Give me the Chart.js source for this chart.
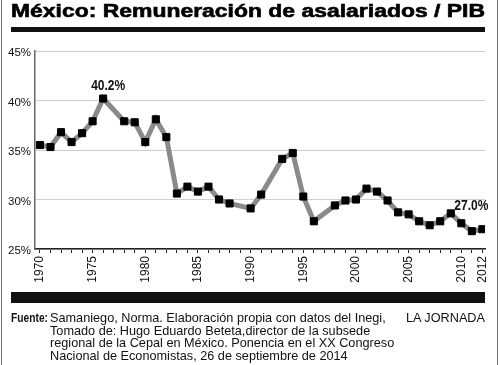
<!DOCTYPE html>
<html>
<head>
<meta charset="utf-8">
<script src="https://cdn.jsdelivr.net/npm/chart.js@4.4.1/dist/chart.umd.min.js"></script>
<style>
html,body{margin:0;padding:0;background:#fff;}
#wrap{position:relative;width:500px;height:365px;overflow:hidden;background:#fff;}
#c{position:absolute;left:0;top:0;}
.vline{position:absolute;top:0;width:1px;height:365px;background:#777;}
.bar{position:absolute;background:#111;}
#title{position:absolute;left:11px;top:2px;font:bold 18px "Liberation Sans",Arial,sans-serif;line-height:18px;white-space:nowrap;transform-origin:0 0;-webkit-text-stroke:0.6px #000;color:#000;}
.foot{position:absolute;font:12.7px "Liberation Sans",Arial,sans-serif;line-height:12.7px;color:#111;white-space:nowrap;}
#fuente{position:absolute;left:11px;top:312px;font:bold 13px "Liberation Sans",Arial,sans-serif;line-height:12.7px;color:#111;transform-origin:0 0;white-space:nowrap;}
</style>
</head>
<body>
<div id="wrap">
  <canvas id="c" width="500" height="365"></canvas>
  <div class="vline" style="left:1px"></div>
  <div class="vline" style="left:497px"></div>
  <div id="title">México: Remuneración de asalariados / PIB</div>
  <div class="bar" style="left:11px;top:27px;width:474px;height:5px"></div>
  <div class="bar" style="left:11px;top:292px;width:474px;height:11px"></div>
  <div id="fuente">Fuente:</div>
  <div class="foot" id="body" style="left:50px;top:312px">Samaniego, Norma. Elaboración propia con datos del Inegi,<br>Tomado de: Hugo Eduardo Beteta,director de la subsede<br>regional de la Cepal en México. Ponencia en el XX Congreso<br>Nacional de Economistas, 26 de septiembre de 2014</div>
  <div class="foot" id="lj" style="right:15px;top:312px">LA JORNADA</div>
</div>
<script>
// ---- data ----
const years = [1970,1971,1972,1973,1974,1975,1976,1977,1978,1979,
               1980,1981,1982,1983,1984,1985,1986,1987,1988,1989,
               1990,1991,1992,1993,1994,1995,1996,1997,1998,1999,
               2000,2001,2002,2003,2004,2005,2006,2007,2008,2009,
               2010,2011,2012];
const share = [35.5,35.3,36.8,35.8,36.7,37.9,40.2,null,37.9,37.8,
               35.8,38.1,36.3,30.6,31.3,30.8,31.3,30.0,29.6,null,
               29.1,30.5,null,34.1,34.7,30.3,27.8,null,29.4,29.9,
               30.0,31.1,30.8,29.9,28.7,28.5,27.8,27.4,27.8,28.6,
               27.6,26.8,27.0];
const labelledYears = [1970,1975,1980,1985,1990,1995,2000,2005,2010,2012];
const yTickValues = [25,30,35,40,45];
const calloutYears = [1976,2012];
const calloutTexts = ['40.2%','27.0%'];

const FONT = '"Liberation Sans",Arial,sans-serif';

const points = years.map((y,i)=>({x:y, y:share[i]}));

const calloutPlugin = {
  id:'callouts',
  afterDatasetsDraw(chart){
    const ctx = chart.ctx;
    const xs = chart.scales.x, ys = chart.scales.y;
    const sx = 0.8;
    ctx.save();
    ctx.fillStyle = '#111';
    ctx.font = 'bold 15px ' + FONT;
    ctx.textBaseline = 'alphabetic';
    calloutYears.forEach((yr,k)=>{
      const v = share[years.indexOf(yr)];
      const px = xs.getPixelForValue(yr), py = ys.getPixelForValue(v);
      ctx.save();
      if (k === 0){
        ctx.translate(px+5, py-9); ctx.scale(sx,1);
        ctx.textAlign='center'; ctx.fillText(calloutTexts[k], 0, 0);
      } else {
        ctx.translate(px+6, py-19); ctx.scale(sx,1);
        ctx.textAlign='right'; ctx.fillText(calloutTexts[k], 0, 0);
      }
      ctx.restore();
    });
    ctx.restore();
  }
};

new Chart(document.getElementById('c'), {
  type:'line',
  data:{ datasets:[{
    data: points,
    borderColor:'#8a8a8a',
    borderWidth:5,
    tension:0,
    spanGaps:true,
    pointStyle:'rect',
    pointRadius:5,
    pointBackgroundColor:'#000',
    pointBorderColor:'#000',
    pointBorderWidth:1,
    borderJoinStyle:'miter'
  }]},
  options:{
    responsive:false,
    animation:false,
    events:[],
    layout:{padding:{left:0,right:15,top:51,bottom:75}},
    plugins:{legend:{display:false},tooltip:{enabled:false},title:{display:false}},
    scales:{
      x:{
        type:'linear',
        min:1969.53, max:2012.25,
        afterBuildTicks(s){ s.ticks = years.map(v=>({value:v})); },
        afterFit(s){ s.height = 41; },
        border:{color:'#222',width:1.5},
        grid:{drawOnChartArea:false,drawTicks:true,tickLength:4,color:'#222',lineWidth:1},
        ticks:{
          autoSkip:false, maxRotation:90, minRotation:90, padding:3,
          color:'#111', font:{family:FONT,size:12},
          callback(v){ return labelledYears.includes(v) ? String(v) : ''; }
        }
      },
      y:{
        min:25,max:45,
        afterBuildTicks(s){ s.ticks = yTickValues.map(v=>({value:v})); },
        afterFit(s){ s.width = 35; },
        border:{color:'#666',width:1.5},
        grid:{color:'#cfcfcf',lineWidth:1,drawTicks:false},
        ticks:{padding:4,color:'#111',font:{family:FONT,size:11.5},labelOffset:2,
          callback(v){ return v + '%'; }}
      }
    }
  },
  plugins:[calloutPlugin]
});

// fit title width
const t = document.getElementById('title');
const w = t.getBoundingClientRect().width;
t.style.transform = 'scaleX(' + (474 / w) + ')';
const f = document.getElementById('fuente');
const fw = f.getBoundingClientRect().width;
f.style.transform = 'scaleX(' + (37 / fw) + ')';
</script>
</body>
</html>
